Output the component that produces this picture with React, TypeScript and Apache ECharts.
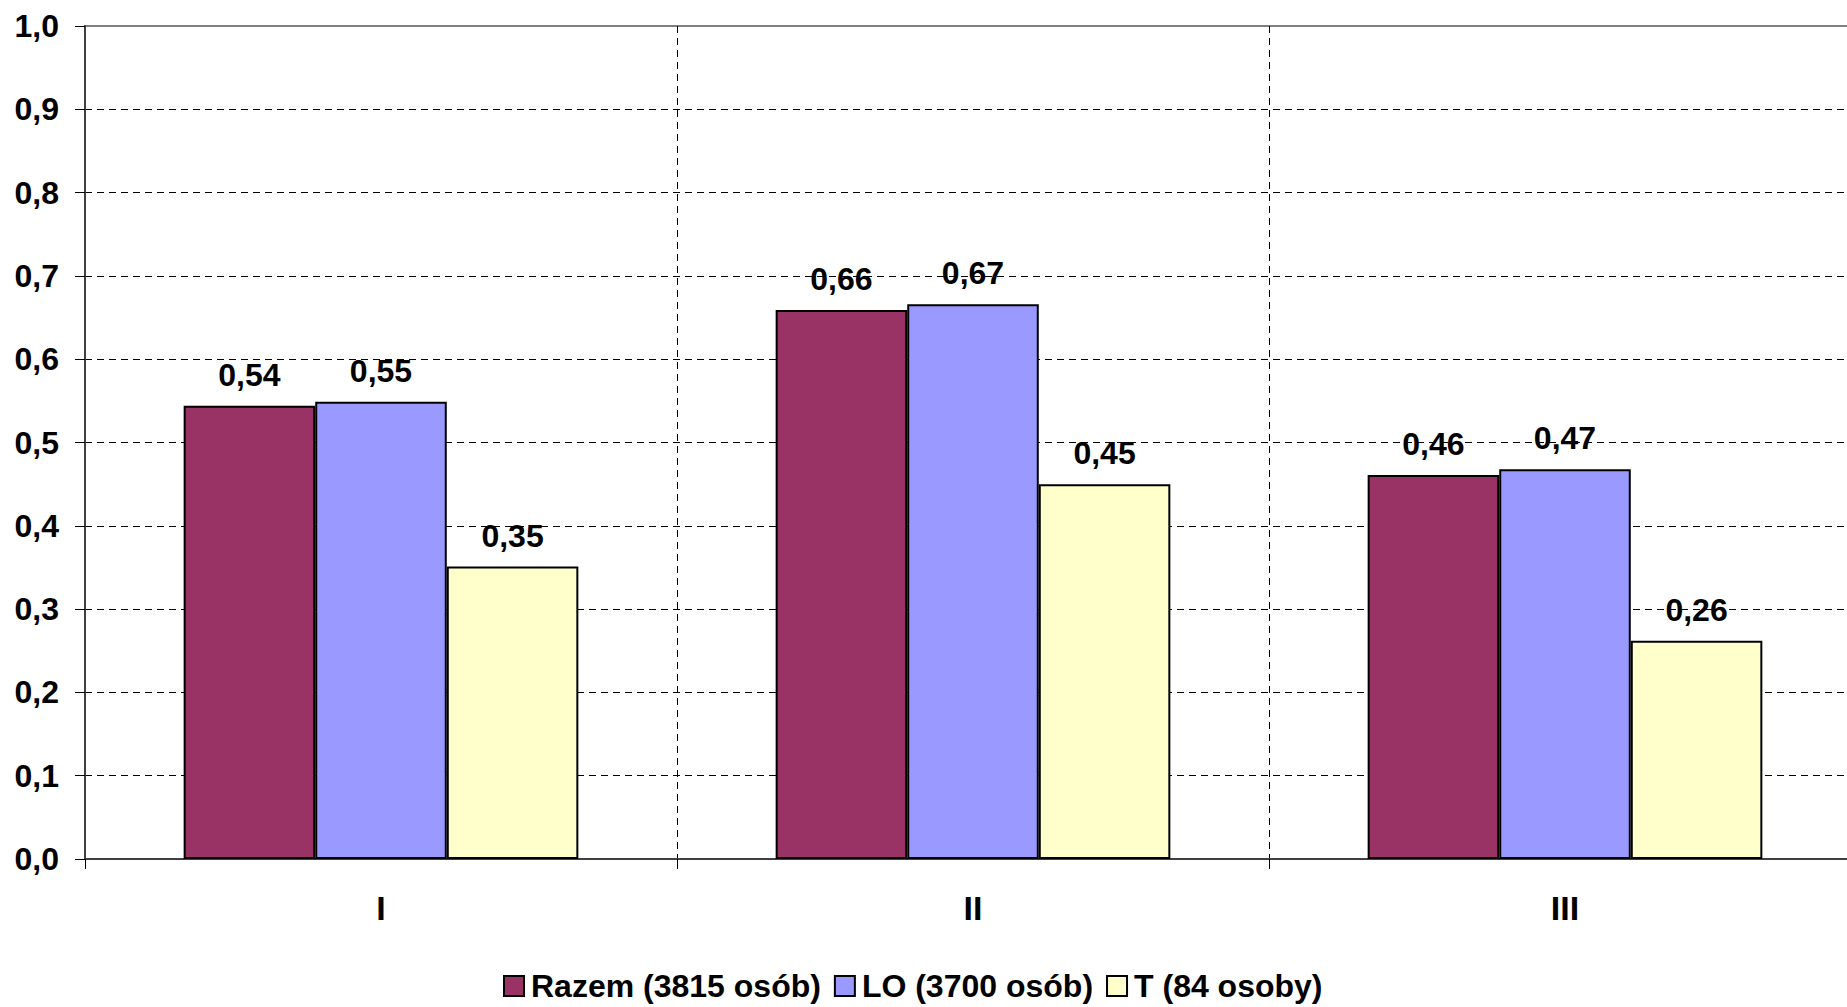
import React, { useEffect, useRef } from "react";
import * as echarts from "echarts";

const categories = ["I", "II", "III"];
const seriesNames = ["Razem (3815 osób)", "LO (3700 osób)", "T (84 osoby)"];
const razem = [0.544, 0.659, 0.461];
const lo = [0.549, 0.666, 0.468];
const t = [0.351, 0.45, 0.262];
const colors = ["#993366", "#9999FF", "#FFFFCC"];

const FONT = "'Liberation Sans', Arial, sans-serif";

export default function App() {
  const ref = useRef<HTMLDivElement>(null);
  useEffect(() => {
    if (!ref.current) return;
    const chart = echarts.init(ref.current, null, { renderer: "svg" });
    const values = [razem, lo, t];
    const splitColors = Array.from({ length: 11 }, (_, i) => (i === 10 ? "transparent" : "#000"));
    chart.setOption({
      animation: false,
      backgroundColor: "#fff",
      textStyle: { fontFamily: FONT },
      grid: { left: 85, top: 26, width: 1776, bottom: 148, show: true, borderColor: "#808080", borderWidth: 2, backgroundColor: "transparent" },
      legend: {
        data: seriesNames,
        left: 498,
        bottom: 0,
        itemWidth: 20,
        itemHeight: 20,
        itemGap: 13,
        icon: "rect",
        itemStyle: { borderColor: "#000", borderWidth: 2 },
        textStyle: { fontFamily: FONT, fontSize: 32, fontWeight: "bold", color: "#000", padding: [0, 0, 0, 2] },
      },
      xAxis: {
        type: "category",
        data: categories,
        axisLine: { lineStyle: { color: "#404040", width: 2 } },
        axisTick: { show: true, length: 10, lineStyle: { color: "#000", width: 1 } },
        axisLabel: { fontFamily: FONT, fontSize: 34, fontWeight: "bold", color: "#000", margin: 32 },
        splitLine: { show: true, lineStyle: { color: "#000", type: [7, 5], width: 1 } },
      },
      yAxis: {
        type: "value",
        min: 0,
        max: 1,
        interval: 0.1,
        axisLine: { show: true, lineStyle: { color: "#404040", width: 2 } },
        axisTick: { show: true, length: 10, lineStyle: { color: "#000", width: 1 } },
        axisLabel: {
          fontFamily: FONT,
          fontSize: 32,
          fontWeight: "bold",
          color: "#000",
          margin: 26,
          formatter: (v: number) => v.toFixed(1).replace(".", ","),
        },
        splitLine: { show: true, lineStyle: { color: splitColors, type: [7, 5], width: 1 } },
      },
      series: seriesNames.map((name, i) => ({
        name,
        type: "bar",
        data: values[i],
        barGap: "0%",
        barCategoryGap: "33.33%",
        itemStyle: { color: colors[i], borderColor: "#000", borderWidth: 2 },
        label: {
          show: true,
          position: "top",
          distance: 15,
          fontFamily: FONT,
          fontSize: 32,
          fontWeight: "bold",
          color: "#000",
          formatter: (p: any) => p.value.toFixed(2).replace(".", ","),
        },
      })),
    });
    return () => chart.dispose();
  }, []);
  return (
    <div style={{ width: 1847, height: 1007, position: "absolute", left: 0, top: 0, overflow: "hidden", background: "#fff" }}>
      <div ref={ref} style={{ width: 1880, height: 1007 }} />
    </div>
  );
}
